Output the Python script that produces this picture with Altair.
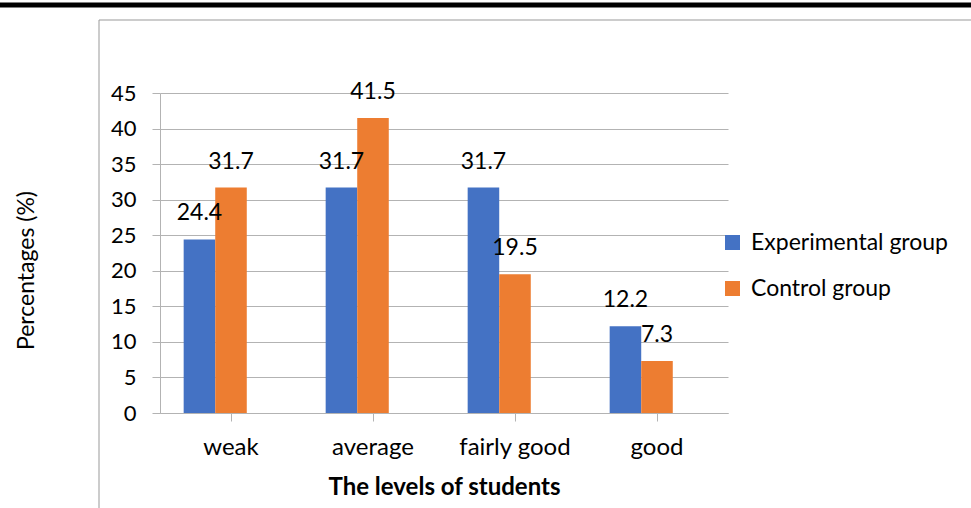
import altair as alt
import pandas as pd

levels = ["weak", "average", "fairly good", "good"]
groups = ["Experimental group", "Control group"]
experimental = [24.4, 31.7, 31.7, 12.2]
control = [31.7, 41.5, 19.5, 7.3]
y_ticks = [0, 5, 10, 15, 20, 25, 30, 35, 40, 45]
colors = ["#4472C4", "#ED7D31"]

rows = []
for i, lvl in enumerate(levels):
    rows.append({"level": lvl, "group": groups[0], "value": experimental[i]})
    rows.append({"level": lvl, "group": groups[1], "value": control[i]})
df = pd.DataFrame(rows)

FONT = "Lato"
GRID = "#b3b3b3"

x = alt.X(
    "level:N", sort=levels,
    scale=alt.Scale(paddingInner=0, paddingOuter=0),
    axis=alt.Axis(
        title="The levels of students", labelAngle=0, labelFontSize=24,
        labelFont=FONT, labelColor="#000", labelPadding=14, labelLimit=0,
        titleFont=FONT, titleFontSize=24, titleFontWeight="bold", titleColor="#000",
        titlePadding=16, tickSize=8, tickColor=GRID, domainColor=GRID,
        grid=False, labelBaseline="top",
    ),
)
xo = alt.XOffset(
    "group:N", sort=groups,
    scale=alt.Scale(domain=groups + ["_pad"], paddingInner=0, paddingOuter=0.75),
)
y = alt.Y(
    "value:Q",
    scale=alt.Scale(domain=[0, 45], nice=False),
    axis=alt.Axis(
        values=y_ticks, title="Percentages (%)", labelFontSize=22, labelFont=FONT,
        labelColor="#000", labelPadding=16, tickSize=8, tickColor=GRID,
        domainColor=GRID, gridColor=GRID, titleFont=FONT, titleFontSize=23,
        titleFontWeight="normal", titleColor="#000", titleX=-134, titleY=177,
        titleAlign="center", titleBaseline="middle",
    ),
)

bars = alt.Chart(df).mark_bar().encode(
    x=x, xOffset=xo, y=y,
    color=alt.Color(
        "group:N", sort=groups,
        scale=alt.Scale(domain=groups, range=colors),
        legend=alt.Legend(
            title=None, orient="none", legendX=561, legendY=138,
            symbolType="square", symbolSize=225, symbolStrokeWidth=0,
            labelFontSize=23, labelFont=FONT, labelColor="#000", labelLimit=0,
            rowPadding=22, labelOffset=7,
        ),
    ),
)

labels = alt.Chart(df).mark_text(
    fontSize=23, font=FONT, color="#000", dy=-26, baseline="middle"
).encode(x=x, xOffset=xo, y=y, text=alt.Text("value:Q", format=".1f"))

one = pd.DataFrame({"a": [0]})
top_black = alt.Chart(one).mark_rule(color="black", strokeWidth=5).encode(
    x=alt.value(-160), x2=alt.value(811), y=alt.value(-88)
)
frame_top = alt.Chart(one).mark_rule(color="#999999", strokeWidth=1).encode(
    x=alt.value(-61), x2=alt.value(811), y=alt.value(-73)
)
frame_left = alt.Chart(one).mark_rule(color="#999999", strokeWidth=1).encode(
    x=alt.value(-61), y=alt.value(-73), y2=alt.value(415)
)

chart = alt.layer(top_black, frame_top, frame_left, bars, labels).properties(
    width=568, height=320,
    autosize=alt.AutoSizeParams(type="none"),
    padding={"left": 160, "top": 93, "right": 243, "bottom": 95},
    background="white",
).configure_view(stroke=None)

chart.save("out.html", embed_options={"renderer": "svg", "actions": False})
